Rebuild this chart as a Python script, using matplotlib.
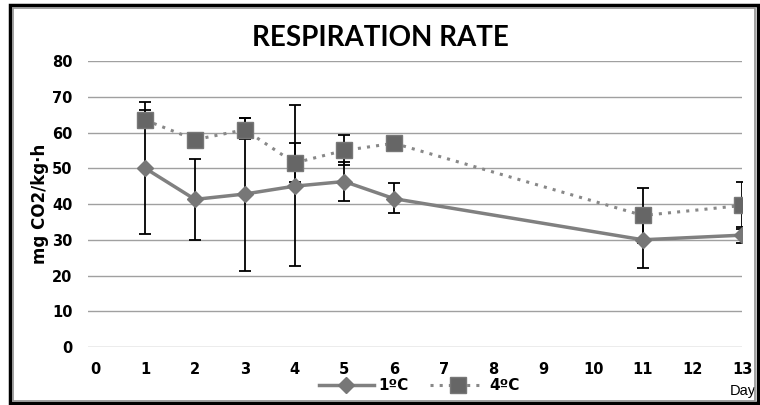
import matplotlib
matplotlib.use('Agg')
import matplotlib.pyplot as plt
from matplotlib.patches import Rectangle

# Data
days = [1, 2, 3, 4, 5, 6, 11, 13]
rate_1c = [50.0, 41.3, 42.8, 45.0, 46.3, 41.5, 30.0, 31.3]
err_1c_low = [18.3, 11.3, 21.5, 22.4, 5.5, 4.0, 7.8, 2.3]
err_1c_high = [16.3, 11.2, 21.2, 22.6, 5.5, 4.4, 7.8, 2.3]
rate_4c = [63.5, 58.0, 60.8, 51.5, 55.0, 57.0, 36.8, 39.6]
err_4c_low = [2.2, 0.0, 2.7, 5.3, 4.0, 0.0, 7.7, 6.5]
err_4c_high = [5.0, 0.0, 3.2, 5.5, 4.4, 0.0, 7.7, 6.6]

x_ticks = list(range(0, 14))
y_ticks = [0, 10, 20, 30, 40, 50, 60, 70, 80]

plt.rcParams['font.family'] = ['DejaVu Sans']
plt.rcParams['font.weight'] = 'bold'
plt.rcParams['font.size'] = 10.5

fig = plt.figure(figsize=(7.6, 4.05), dpi=100)
ax = fig.add_axes([0.1158, 0.1432, 0.861, 0.706])

# grid
for y in y_ticks:
    ax.axhline(y, color='#a0a0a0', lw=1.0, zorder=0)

# error bars
ax.errorbar(days, rate_1c, yerr=[err_1c_low, err_1c_high], fmt='none',
            ecolor='black', elinewidth=1.3, capsize=4, capthick=1.3, zorder=2)
ax.errorbar(days, rate_4c, yerr=[err_4c_low, err_4c_high], fmt='none',
            ecolor='black', elinewidth=1.3, capsize=4, capthick=1.3, zorder=2)

# series
l1, = ax.plot(days, rate_1c, color='#808080', lw=2.5, marker='D', ms=8.5,
              mfc='#777777', mec='#777777', zorder=3, label='1ºC')
l4, = ax.plot(days, rate_4c, color='#888888', lw=2.2, ls=(0, (1, 2)),
              marker='s', ms=11, mfc='#666666', mec='#777777', zorder=3, label='4ºC')

ax.set_xlim(-0.15, 13)
ax.set_ylim(0, 80)
for s in ax.spines.values():
    s.set_visible(False)

ax.set_xticks(x_ticks)
ax.set_xticks(range(1, 14), minor=True)
ax.set_yticks(y_ticks)
ax.tick_params(axis='x', which='major', length=0, pad=11)
ax.tick_params(axis='x', which='minor', length=6, color='#a0a0a0', width=1)
ax.tick_params(axis='y', length=0, pad=11)

ax.set_ylabel('mg CO2/kg·h', fontsize=12, fontweight='bold', labelpad=2)

fig.text(0.5, 0.905, 'RESPIRATION RATE', ha='center', va='center',
         fontsize=20, fontweight='bold', family='Lato')

ax.annotate('Day', xy=(13, 0), xycoords='data', xytext=(0, -32),
            textcoords='offset points', ha='center', va='center', fontsize=10.5,
            fontweight='normal', family='Liberation Sans')

fig.legend(handles=[l1, l4], loc='center', bbox_to_anchor=(0.552, 0.048), ncol=2,
           frameon=False, handlelength=3.6, columnspacing=1.4, handletextpad=0.3,
           borderaxespad=0, prop={'weight': 'bold', 'size': 11})

# frame around the chart
fig.patches.append(Rectangle((0.013, 0.005), 0.984, 0.982, transform=fig.transFigure,
                             fill=False, ec='black', lw=2.5))
fig.patches.append(Rectangle((0.017, 0.009), 0.976, 0.972, transform=fig.transFigure,
                             fill=False, ec='#909090', lw=1.2))

fig.savefig('out.png', dpi=100)
